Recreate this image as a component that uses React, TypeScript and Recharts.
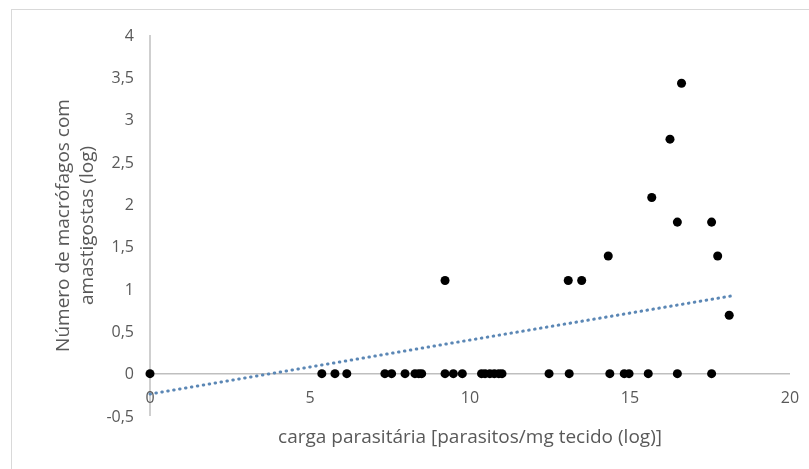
import React from 'react';
import { ScatterChart, Scatter, XAxis, YAxis, ReferenceLine, Label } from 'recharts';

// parasite load (log) per sample
const loadValues = [
  0, 5.37, 5.78, 6.15, 7.34, 7.55, 7.97, 8.28, 8.4, 8.49,
  9.22, 9.48, 9.76, 10.36, 10.47, 10.62, 10.76, 10.9, 11.0, 12.47,
  13.1, 14.37, 14.82, 14.97, 15.57, 16.48, 17.55,
  9.22, 13.07, 13.49, 14.32, 15.68, 16.25, 16.61, 16.48, 17.55, 17.74, 18.1,
];
// number of macrophages with amastigotes (log)
const macrophageValues = [
  0, 0, 0, 0, 0, 0, 0, 0, 0, 0,
  0, 0, 0, 0, 0, 0, 0, 0, 0, 0,
  0, 0, 0, 0, 0, 0, 0,
  1.1, 1.1, 1.1, 1.39, 2.08, 2.77, 3.43, 1.79, 1.79, 1.39, 0.69,
];
// linear trendline end points
const trendLoad = [0, 18.2];
const trendMacro = [-0.24, 0.92];

const xTicks = [0, 5, 10, 15, 20];
const yTicks = [-0.5, 0, 0.5, 1, 1.5, 2, 2.5, 3, 3.5, 4];
const xTitle = 'carga parasitária [parasitos/mg tecido (log)]';
const yTitleLines = ['Número de macrófagos com', 'amastigostas (log)'];

const points = loadValues.map((x, i) => ({ x, y: macrophageValues[i] }));
const trend = trendLoad.map((x, i) => ({ x, y: trendMacro[i] }));

const FONT = '"Open Sans", sans-serif';
const TEXT = '#595959';
const AXIS = '#bfbfbf';
const TICK_SIZE = 16;
const TITLE_SIZE = 19;

const fmt = (v: number) => String(v).replace('.', ',');

const YTitle = (props: any) => {
  const vb = props.viewBox || { x: 0, y: 0, width: 0, height: 0 };
  const cy = vb.y + vb.height / 2;
  const x1 = vb.x + 54;
  const x2 = vb.x + 78;
  return (
    <g>
      <text x={x1} y={cy} transform={`rotate(-90 ${x1} ${cy})`} textAnchor="middle" dominantBaseline="central" fill={TEXT} fontSize={TITLE_SIZE} fontFamily={FONT}>
        {yTitleLines[0]}
      </text>
      <text x={x2} y={cy} transform={`rotate(-90 ${x2} ${cy})`} textAnchor="middle" dominantBaseline="central" fill={TEXT} fontSize={TITLE_SIZE} fontFamily={FONT}>
        {yTitleLines[1]}
      </text>
    </g>
  );
};

export default function App() {
  return (
    <div style={{ position: 'relative', width: 793, height: 453, background: '#fff' }}>
      <div
        style={{
          position: 'fixed', left: 11, top: 9, width: 900, height: 600,
          borderLeft: '1.5px solid #d9d9d9', borderTop: '1.5px solid #d9d9d9', pointerEvents: 'none',
        }}
      />
      <ScatterChart width={793} height={453} margin={{ top: 27, right: 11, bottom: 0, left: 0 }}>
        <XAxis
          type="number"
          dataKey="x"
          domain={[0, 20]}
          ticks={xTicks}
          interval={0}
          height={45}
          axisLine={false}
          tickLine={false}
          tick={{ fill: TEXT, fontSize: TICK_SIZE, fontFamily: FONT, dy: -32 }}
        >
          <Label value={xTitle} position="insideBottom" offset={18} fill={TEXT} fontSize={TITLE_SIZE} fontFamily={FONT} />
        </XAxis>
        <YAxis
          type="number"
          dataKey="y"
          domain={[-0.5, 4]}
          ticks={yTicks}
          interval={0}
          width={142}
          axisLine={{ stroke: AXIS, strokeWidth: 1.5 }}
          tickLine={false}
          tickMargin={10}
          tickFormatter={fmt}
          tick={{ fill: TEXT, fontSize: TICK_SIZE, fontFamily: FONT }}
        >
          <Label content={YTitle} position="insideLeft" />
        </YAxis>
        <ReferenceLine y={0} stroke={AXIS} strokeWidth={1.5} ifOverflow="visible" />
        <Scatter
          data={trend}
          line={{ stroke: '#5b87b5', strokeWidth: 3, strokeDasharray: '0.5 5.5', strokeLinecap: 'round' }}
          lineType="joint"
          shape={() => null}
          isAnimationActive={false}
        />
        <Scatter data={points} fill="#000" shape="circle" isAnimationActive={false}
          {...({ r: 5 } as any)} />
      </ScatterChart>
    </div>
  );
}
